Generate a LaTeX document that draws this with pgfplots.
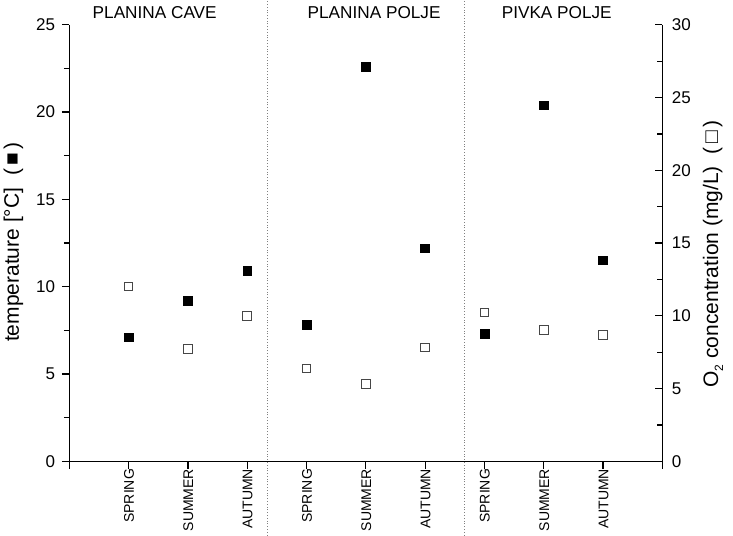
\documentclass[border=0pt]{standalone}
\usepackage{pgfplots}
\pgfplotsset{compat=1.18}
\usepackage{fontspec}
\setmainfont{Liberation Sans}
\definecolor{opengray}{RGB}{70,70,70}
\begin{document}
\begin{tikzpicture}
\path[use as bounding box] (-69.3bp,-74.7bp) rectangle (663.7bp,461.3bp);
\begin{axis}[
  at={(0,0)}, anchor=south west,
  scale only axis, width=593bp, height=436.5bp,
  xmin=0, xmax=10, ymin=0, ymax=25,
  clip=false,
  axis x line*=bottom, axis y line*=left,
  axis line style={line width=1.2bp, -},
  every tick/.style={line width=1.2bp, black},
  tick align=outside,
  major tick length=7.5bp, minor tick length=5.5bp,
  xtick={1,...,9},
  xticklabels={SPRING,SUMMER,AUTUMN,SPRING,SUMMER,AUTUMN,SPRING,SUMMER,AUTUMN},
  extra x ticks={0,10}, extra x tick labels={},
  ytick={0,5,...,25}, minor y tick num=1,
  /pgf/number format/assume math mode=true,
  yticklabel style={font=\fontsize{17bp}{17bp}\selectfont, inner sep=0pt, xshift=-6.5bp},
  xticklabel style={font=\fontsize{14bp}{14bp}\selectfont, rotate=90, anchor=east, inner sep=0pt, yshift=-0.5bp},
  ylabel={temperature [°C]\ \ (\,■\,)},
  ylabel style={font=\fontsize{21bp}{21bp}\selectfont, at={(axis description cs:0,0.5)}, anchor=center, yshift=55.8bp, xshift=1bp},
]
\draw[dotted, color=gray, line width=0.8bp] (axis cs:3.3333,-4.4) -- (axis cs:3.3333,26.5);
\draw[dotted, color=gray, line width=0.8bp] (axis cs:6.6667,-4.4) -- (axis cs:6.6667,26.5);
\node[anchor=base, font=\fontsize{17.2bp}{17.2bp}\selectfont] at (axis cs:1.44,25.37) {PLANINA CAVE};
\node[anchor=base, font=\fontsize{17.2bp}{17.2bp}\selectfont] at (axis cs:5.14,25.37) {PLANINA POLJE};
\node[anchor=base, font=\fontsize{17.2bp}{17.2bp}\selectfont] at (axis cs:8.22,25.37) {PIVKA POLJE};
\addplot[only marks, mark=square*, mark size=4.4bp, mark options={fill=black, draw=black, line width=0.6bp}]
  coordinates {(1,7.10) (2,9.20) (3,10.9) (4,7.81) (5,22.6) (6,12.2) (7,7.29) (8,20.39) (9,11.51)};
\end{axis}
\begin{axis}[
  at={(0,0)}, anchor=south west,
  scale only axis, width=593bp, height=436.5bp,
  xmin=0, xmax=10, ymin=0, ymax=30,
  clip=false,
  axis x line=none, axis y line*=right,
  axis line style={line width=1.2bp, -},
  every tick/.style={line width=1.2bp, black},
  tick align=inside,
  major tick length=7.5bp, minor tick length=5.5bp,
  ytick={0,5,...,30}, minor y tick num=1,
  /pgf/number format/assume math mode=true,
  yticklabel style={font=\fontsize{17bp}{17bp}\selectfont, inner sep=0pt, anchor=west, xshift=9.4bp},
  ylabel={O\raisebox{-5bp}{\fontsize{12bp}{12bp}\selectfont 2} concentration (mg/L)\ \ (\,□\,)},
  ylabel style={font=\fontsize{21bp}{21bp}\selectfont, at={(axis description cs:1,0.5)}, anchor=center, yshift=-50.7bp, xshift=-11bp},
]
\addplot[only marks, mark=square*, mark size=4.3bp, mark options={fill=white, draw=opengray, line width=1bp}]
  coordinates {(1,12.0) (2,7.70) (3,10.0) (4,6.37) (5,5.31) (6,7.81) (7,10.24) (8,9.02) (9,8.70)};
\end{axis}
\end{tikzpicture}
\end{document}
